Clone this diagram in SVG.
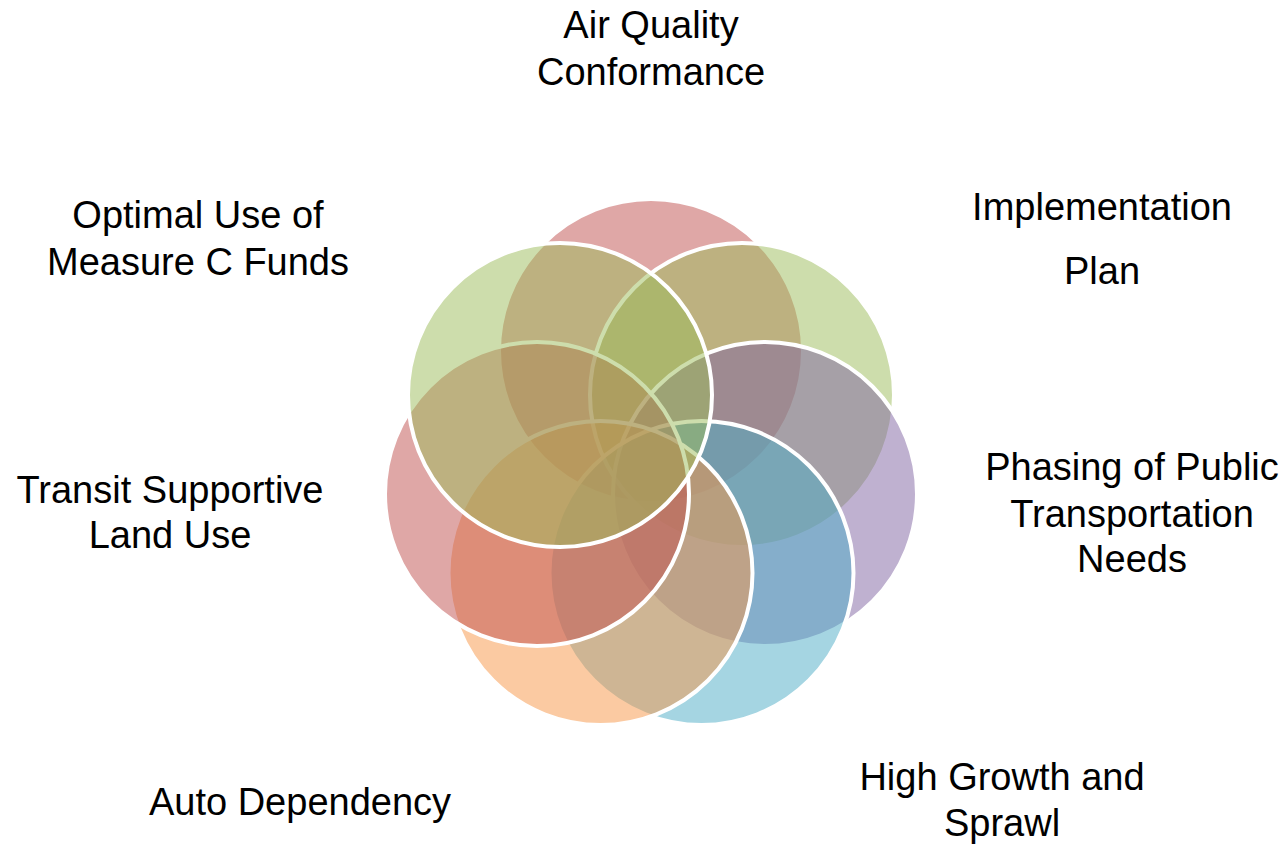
<svg xmlns="http://www.w3.org/2000/svg" width="1285" height="847" viewBox="0 0 1285 847">
<style>
.c{fill-opacity:0.5;stroke:#FFFFFF;stroke-width:4}
.t{font-family:"Liberation Sans",Arial,sans-serif;font-size:38px;fill:#000000;text-anchor:middle}
</style>
<rect width="1285" height="847" fill="#FFFFFF"/>
<g id="circles">
<g id="c-air"><circle class="c" cx="651" cy="351" r="152" fill="#C0504D"/></g>
<g id="c-impl"><circle class="c" cx="742" cy="395" r="152" fill="#9BBB59"/></g>
<g id="c-phasing"><circle class="c" cx="765" cy="494" r="152" fill="#8064A2"/></g>
<g id="c-growth"><circle class="c" cx="701.5" cy="573" r="152" fill="#4BACC6"/></g>
<g id="c-auto"><circle class="c" cx="600.5" cy="573" r="152" fill="#F79646"/></g>
<g id="c-transit"><circle class="c" cx="537" cy="494" r="152" fill="#C0504D"/></g>
<g id="c-optimal"><circle class="c" cx="560" cy="395" r="152" fill="#9BBB59"/></g>
</g>
<g id="connectors"/>
<g id="label-air"><text class="t" x="651" y="38">Air Quality</text><text class="t" x="651" y="85">Conformance</text></g>
<g id="label-impl"><text class="t" x="1102" y="220">Implementation</text><text class="t" x="1102" y="284">Plan</text></g>
<g id="label-optimal"><text class="t" x="198" y="228">Optimal Use of</text><text class="t" x="198" y="275">Measure C Funds</text></g>
<g id="label-phasing"><text class="t" x="1132" y="480">Phasing of Public</text><text class="t" x="1132" y="527">Transportation</text><text class="t" x="1132" y="572">Needs</text></g>
<g id="label-transit"><text class="t" x="170" y="503">Transit Supportive</text><text class="t" x="170" y="548">Land Use</text></g>
<g id="label-auto"><text class="t" x="300" y="815">Auto Dependency</text></g>
<g id="label-growth"><text class="t" x="1002" y="790">High Growth and</text><text class="t" x="1002" y="836">Sprawl</text></g>
</svg>
